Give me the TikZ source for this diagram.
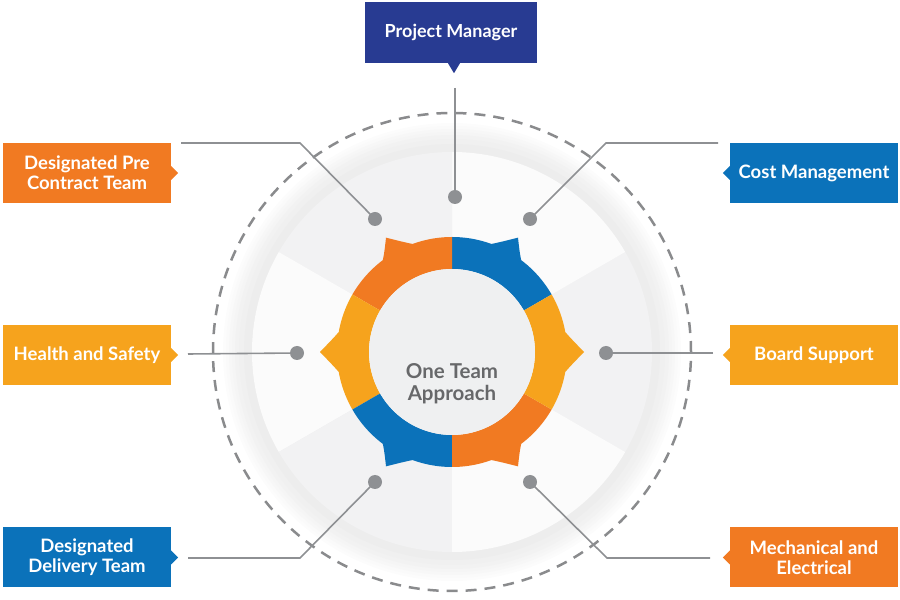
\documentclass[tikz,border=0pt]{standalone}
\usepackage{fontspec}
\setmainfont{Lato}
\definecolor{pmblue}{HTML}{283B92}
\definecolor{tblue}{HTML}{0B72BA}
\definecolor{torange}{HTML}{F17A22}
\definecolor{tyellow}{HTML}{F6A31D}
\definecolor{lgray}{HTML}{8E9093}
\definecolor{dgray}{HTML}{8A8B8D}
\definecolor{tgray}{HTML}{67686A}
\definecolor{wedgegray}{HTML}{F2F2F3}
\definecolor{wedgewhite}{HTML}{FBFBFB}
\definecolor{hubgray}{HTML}{EFF0F1}
\begin{document}
\begin{tikzpicture}[x=1pt,y=1pt,
  box/.style={rectangle,minimum width=168,minimum height=60,inner sep=0,text=white,align=center,font=\bfseries\fontsize{18.5}{20}\selectfont},
  dot/.style={circle,fill=lgray,inner sep=0,minimum size=14},
  conn/.style={draw=lgray,line width=1.6},
  declare function={gq(\d,\l,\r)=(\d<0)*max(0,1+\d/\l)+(\d>=0)*max(0,1-\d/\r);
    gr(\d,\l,\r)=115+17*gq(\d,\l,\r)*(0.7+0.3*gq(\d,\l,\r));}]
\useasboundingbox (0,0) rectangle (900,600);
% background disc
\foreach \r/\k in {229/1,226/2,223/3,220/4,217/5,213/6,208/7,203/7}
  \fill[black!\k] (452,248) circle (\r);
\begin{scope}[shift={(452,248)}]
\foreach \a/\c in {-30/wedgegray,30/wedgewhite,90/wedgegray,150/wedgewhite,210/wedgegray,270/wedgewhite}
  \fill[\c] (0,0) -- (\a:200) arc[start angle=\a,delta angle=60,radius=200] -- cycle;
% gear ring
\foreach \a/\c/\wl/\wr in {30/tblue/7/10,90/torange/10/7,150/tyellow/10/10,210/tblue/7/10,270/torange/10/7,330/tyellow/10/10}{
  \pgfmathsetmacro\b{\a+60}
  \pgfmathsetmacro\m{\a+30}
  \fill[\c] plot[domain=\a:\b,samples=121,variable=\t] ({gr(\t-\m,\wl,\wr)*cos(\t)},{gr(\t-\m,\wl,\wr)*sin(\t)})
    -- (\b:83) arc[start angle=\b,end angle=\a,radius=83] -- cycle;
}
\fill[hubgray] (0,0) circle (83);
\end{scope}
\draw[dgray,line width=2.5,dash pattern=on 11 off 8] (452,248) circle (239);
\node (hub) at (452,216) [align=center,text=tgray,font=\bfseries\fontsize{20.5}{22}\selectfont] {One Team\\Approach};
% boxes
\node (pm) at (451,567.5) [box,fill=pmblue,minimum width=172,minimum height=61,font=\bfseries\fontsize{18}{19}\selectfont] {Project Manager};
\node (pre) at (87,427) [box,fill=torange] {Designated Pre\\Contract Team};
\node (health) at (87,245) [box,fill=tyellow] {Health and Safety};
\node (deliv) at (87,42.5) [box,fill=tblue] {Designated\\Delivery Team};
\node (cost) at (814,427) [box,fill=tblue] {Cost Management};
\node (board) at (814,245) [box,fill=tyellow] {Board Support};
\node (mech) at (814,42.5) [box,fill=torange] {Mechanical and\\Electrical};
\fill[pmblue] ([xshift=-3]pm.south) -- ++(6,-10) -- ++(6,10) -- cycle;
\foreach \n/\c in {pre/torange,health/tyellow,deliv/tblue}
  \fill[\c] ([yshift=7]\n.east) -- ++(7,-7) -- ++(-7,-7) -- cycle;
\foreach \n/\c in {cost/tblue,board/tyellow,mech/torange}
  \fill[\c] ([yshift=7]\n.west) -- ++(-7,-7) -- ++(7,-7) -- cycle;
% dots
\node (dpm) at (455,403) [dot] {};
\node (dpre) at (375,381) [dot] {};
\node (dcost) at (530,381) [dot] {};
\node (dhealth) at (297,247) [dot] {};
\node (dboard) at (606,247) [dot] {};
\node (ddeliv) at (375,118) [dot] {};
\node (dmech) at (530,118) [dot] {};
% line ends
\coordinate (pm-s) at (455,512);
\coordinate (pre-s) at (181,457);
\coordinate (pre-k) at (300,457);
\coordinate (cost-s) at (718,457);
\coordinate (cost-k) at (606,457);
\coordinate (health-s) at (188,246);
\coordinate (board-s) at (713,247);
\coordinate (deliv-s) at (188,42);
\coordinate (deliv-k) at (300,42);
\coordinate (mech-s) at (710,42);
\coordinate (mech-k) at (607,42);
\draw[conn] (pm-s) -- (dpm.center);
\draw[conn] (pre-s) -- (pre-k) -- (dpre.center);
\draw[conn] (cost-s) -- (cost-k) -- (dcost.center);
\draw[conn] (health-s) -- (dhealth.center);
\draw[conn] (board-s) -- (dboard.center);
\draw[conn] (deliv-s) -- (deliv-k) -- (ddeliv.center);
\draw[conn] (mech-s) -- (mech-k) -- (dmech.center);
\end{tikzpicture}
\end{document}
